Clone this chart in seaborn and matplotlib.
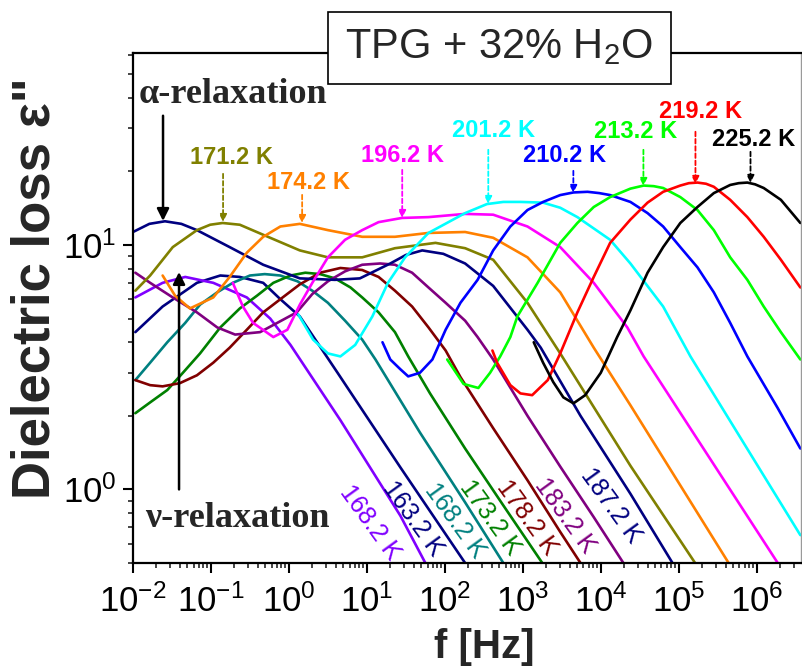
import numpy as np
import pandas as pd
import matplotlib
matplotlib.use("Agg")
import matplotlib.pyplot as plt
import seaborn as sns
from matplotlib.patches import Rectangle
from matplotlib.ticker import LogLocator, LogFormatterSciNotation, NullFormatter

# ---------------- data: log10(f / Hz) and dielectric loss ----------------
logf_163 = [-1.97, -1.62, -1.18, -0.88, -0.63, -0.33, -0.11, 0.14, 0.63, 1.43, 2.26]
eps_163 = [4.4, 5.6, 7.0, 7.5, 7.4, 7.0, 6.0, 5.1, 2.98, 1.23, 0.50]

logf_168v = [-1.97, -1.62, -1.33, -0.97, -0.54, -0.24, 0.02, 0.66, 1.43, 1.75]
eps_168v = [6.1, 7.0, 7.4, 7.0, 6.1, 5.0, 3.9, 1.92, 0.78, 0.50]

logf_168t = [-1.97, -1.78, -1.56, -1.33, -1.14, -0.92, -0.72, -0.50, -0.31, -0.11, 0.11,
             0.30, 0.50, 0.72, 0.94, 1.11, 1.68, 2.26, 2.75]
eps_168t = [2.8, 3.3, 4.0, 4.8, 5.7, 6.4, 7.0, 7.5, 7.6, 7.5, 7.1,
            6.5, 5.8, 4.9, 4.1, 3.4, 1.71, 0.885, 0.50]

logf_173 = [-1.97, -1.78, -1.56, -1.36, -1.14, -0.88, -0.63, -0.41, -0.20, 0.02, 0.21,
            0.40, 0.59, 0.79, 0.94, 1.15, 1.36, 1.53, 1.81, 2.26, 2.75, 3.25]
eps_173 = [2.05, 2.27, 2.55, 3.0, 3.6, 4.6, 5.5, 6.2, 7.0, 7.5, 7.7,
           7.6, 7.3, 6.7, 6.1, 5.3, 4.4, 3.5, 2.47, 1.47, 0.86, 0.50]

logf_178 = [-1.97, -1.78, -1.62, -1.40, -1.18, -0.97, -0.76, -0.54, -0.33, -0.11, 0.14,
            0.40, 0.66, 0.94, 1.15, 1.36, 1.58, 1.79, 2.01, 2.20, 2.62, 3.06, 3.48, 3.74]
eps_178 = [2.8, 2.67, 2.64, 2.72, 2.93, 3.3, 3.8, 4.5, 5.3, 6.0, 6.9,
           7.7, 8.05, 7.9, 7.4, 6.5, 5.6, 4.6, 3.7, 2.88, 1.78, 1.09, 0.67, 0.50]

logf_183 = [-1.97, -1.78, -1.49, -1.18, -0.92, -0.69, -0.37, -0.15, 0.10, 0.30, 0.50,
            0.72, 0.94, 1.17, 1.36, 1.58, 1.79, 2.01, 2.26, 2.42, 2.62, 3.06, 3.48, 3.91, 4.29]
eps_183 = [7.7, 7.0, 6.1, 5.3, 4.6, 4.3, 4.4, 4.8, 5.3, 6.3, 7.1,
           7.8, 8.3, 8.4, 8.3, 7.7, 6.7, 5.8, 4.9, 4.2, 3.4, 2.0, 1.24, 0.77, 0.50]

logf_187 = [-2.00, -1.79, -1.59, -1.38, -1.18, -0.76, -0.33, 0.14, 0.59, 0.91, 1.30, 1.50,
            1.71, 1.98, 2.26, 2.62, 3.06, 3.23, 3.74, 4.38, 4.92]
eps_187 = [11.3, 12.2, 12.5, 12.2, 11.5, 9.8, 8.3, 7.3, 7.2, 7.3, 8.4, 9.1,
           9.5, 9.2, 8.4, 6.8, 4.5, 3.8, 2.0, 0.96, 0.50]

logf_171 = [-1.97, -1.78, -1.49, -1.18, -1.01, -0.85, -0.63, -0.24, 0.14, 0.50, 0.94, 1.36,
            1.88, 2.26, 2.62, 3.06, 3.48, 4.38, 5.21]
eps_171 = [6.5, 7.5, 9.8, 11.5, 12.1, 12.3, 12.1, 10.7, 9.5, 8.9, 8.9, 9.7,
           10.2, 9.7, 8.7, 5.8, 3.6, 1.25, 0.50]

logf_174 = [-1.62, -1.46, -1.27, -0.97, -0.76, -0.54, -0.33, -0.11, 0.14, 0.50, 0.94,
            1.36, 1.79, 2.26, 2.62, 3.06, 3.48, 3.91, 4.38, 5.64]
eps_174 = [7.5, 6.2, 5.5, 6.1, 7.4, 9.3, 10.8, 11.9, 12.2, 11.5, 10.8,
           10.8, 11.2, 11.3, 10.7, 8.9, 6.4, 3.8, 2.21, 0.50]

logf_196 = [-0.72, -0.59, -0.46, -0.20, -0.02, 0.14, 0.30, 0.50, 0.72, 0.94, 1.15,
            1.45, 1.79, 2.26, 2.62, 3.06, 3.48, 3.91, 4.34, 4.55, 6.27]
eps_196 = [7.0, 5.6, 4.8, 4.2, 4.5, 5.7, 7.0, 8.9, 10.5, 11.5, 12.4,
           12.9, 13.0, 13.4, 13.3, 11.9, 9.8, 7.0, 4.6, 3.5, 0.50]

logf_201 = [0.12, 0.31, 0.50, 0.66, 0.85, 1.07, 1.27, 1.49, 1.79, 2.26, 2.54, 2.75,
            2.97, 3.26, 3.48, 3.70, 4.12, 4.38, 4.80, 5.15, 6.56]
eps_201 = [5.2, 4.1, 3.6, 3.5, 3.9, 5.1, 7.0, 8.9, 11.2, 13.5, 14.7, 15.0,
           15.0, 14.9, 14.2, 13.0, 10.5, 8.4, 5.6, 3.5, 0.65]

logf_210 = [1.20, 1.30, 1.43, 1.53, 1.68, 1.84, 2.01, 2.20, 2.42, 2.62, 2.84, 3.06, 3.26,
            3.48, 3.65, 3.83, 3.98, 4.12, 4.38, 4.60, 4.80, 5.02, 5.24, 5.45, 5.66, 5.88,
            6.27, 6.56]
eps_210 = [4.0, 3.4, 3.1, 2.9, 3.0, 3.4, 4.5, 5.8, 7.2, 9.5, 11.9, 13.9, 15.0,
           16.0, 16.4, 16.5, 16.3, 16.0, 15.0, 13.5, 11.9, 9.8, 8.1, 6.4, 4.8, 3.5,
           2.15, 1.47]

logf_213 = [2.03, 2.24, 2.43, 2.58, 2.71, 2.84, 2.93, 3.19, 3.48, 3.70, 3.91, 4.12,
            4.38, 4.55, 4.68, 4.80, 5.02, 5.24, 5.45, 5.66, 5.88, 6.09, 6.31, 6.56]
eps_213 = [3.4, 2.7, 2.6, 3.0, 3.5, 4.2, 5.1, 7.0, 10.2, 12.3, 14.3, 15.7,
           17.0, 17.5, 17.4, 17.1, 15.7, 13.9, 11.5, 8.9, 7.2, 5.6, 4.4, 3.4]

logf_219 = [2.61, 2.67, 2.84, 2.97, 3.12, 3.32, 3.48, 3.70, 3.91, 4.12, 4.38,
            4.60, 4.80, 5.02, 5.13, 5.24, 5.35, 5.45, 5.66, 5.88, 6.09, 6.31, 6.56]
eps_219 = [3.7, 3.3, 2.67, 2.47, 2.43, 2.80, 3.6, 5.3, 7.4, 10.2, 12.7,
           14.9, 16.5, 17.5, 17.9, 18.0, 17.8, 17.3, 15.3, 13.0, 10.8, 8.7, 6.7]

logf_225 = [3.14, 3.26, 3.39, 3.52, 3.65, 3.80, 4.00, 4.21, 4.38, 4.60, 4.80,
            5.02, 5.24, 5.45, 5.66, 5.77, 5.88, 5.98, 6.09, 6.31, 6.56]
eps_225 = [4.0, 3.3, 2.75, 2.38, 2.25, 2.43, 3.0, 4.2, 5.4, 7.7, 9.8,
           12.3, 14.3, 16.3, 17.6, 17.9, 18.0, 17.7, 17.1, 15.3, 12.3]

curve_names = ["163.2 K", "168.2 K (v)", "168.2 K (t)", "173.2 K", "178.2 K", "183.2 K",
               "187.2 K", "171.2 K", "174.2 K", "196.2 K", "201.2 K", "210.2 K",
               "213.2 K", "219.2 K", "225.2 K"]
curve_colors = ["#000080", "#8000FF", "#008080", "#008000", "#800000", "#800080",
                "#000080", "#808000", "#FF8000", "#FF00FF", "#00FFFF", "#0000FF",
                "#00FF00", "#FF0000", "#000000"]
curve_logf = [logf_163, logf_168v, logf_168t, logf_173, logf_178, logf_183, logf_187,
              logf_171, logf_174, logf_196, logf_201, logf_210, logf_213, logf_219, logf_225]
curve_eps = [eps_163, eps_168v, eps_168t, eps_173, eps_178, eps_183, eps_187,
             eps_171, eps_174, eps_196, eps_201, eps_210, eps_213, eps_219, eps_225]

# labels: top (bold, with dashed arrows) and bottom (rotated)
top_labels = ["171.2 K", "174.2 K", "196.2 K", "201.2 K", "210.2 K", "213.2 K", "219.2 K", "225.2 K"]
top_colors = ["#808000", "#FF8000", "#FF00FF", "#00FFFF", "#0000FF", "#00FF00", "#FF0000", "#000000"]
bottom_labels = ["168.2 K", "163.2 K", "168.2 K", "173.2 K", "178.2 K", "183.2 K", "187.2 K"]
bottom_colors = ["#8000FF", "#000080", "#008080", "#008000", "#800000", "#800080", "#000080"]

# ---------------- style ----------------
sns.set_style("ticks")
plt.rcParams["font.family"] = ["Liberation Sans", "DejaVu Sans"]
plt.rcParams["mathtext.default"] = "regular"
plt.rcParams["axes.unicode_minus"] = False

W, H = 802, 670
fig = plt.figure(figsize=(W / 100, H / 100), dpi=100)
AX_L, AX_R, AX_T, AX_B = 133, 801, 53, 563
ax = fig.add_axes([AX_L / W, (H - AX_B) / H, (AX_R - AX_L) / W, (AX_B - AX_T) / H])

rows = []
for name, lf, ep in zip(curve_names, curve_logf, curve_eps):
    for i, (a, b) in enumerate(zip(lf, ep)):
        rows.append((name, i, 10 ** a, b))
df = pd.DataFrame(rows, columns=["curve", "idx", "f", "eps"])

sns.lineplot(data=df, x="f", y="eps", hue="curve", hue_order=curve_names,
             palette=dict(zip(curve_names, curve_colors)), estimator=None, sort=False,
             linewidth=1.9, legend=False, ax=ax, solid_joinstyle="round")

ax.set_xscale("log")
ax.set_yscale("log")
ax.set_xlim(0.01, 3.7e6)
ax.set_ylim(0.5, 61)

ax.xaxis.set_major_locator(LogLocator(base=10, numticks=20))
ax.xaxis.set_minor_locator(LogLocator(base=10, subs=np.arange(2, 10), numticks=200))
ax.yaxis.set_minor_locator(LogLocator(base=10, subs=np.arange(2, 10), numticks=200))
ax.xaxis.set_major_formatter(LogFormatterSciNotation())
ax.yaxis.set_major_formatter(LogFormatterSciNotation())
ax.xaxis.set_minor_formatter(NullFormatter())
ax.yaxis.set_minor_formatter(NullFormatter())

ax.tick_params(which="major", direction="out", length=7, width=1.5, labelsize=25,
               top=False, right=False, colors="black")
ax.tick_params(which="minor", direction="out", length=3.5, width=1.2, top=False, right=False)
ax.tick_params(axis="x", which="major", pad=8)
ax.tick_params(axis="y", which="major", pad=5)

for s in ["left", "bottom", "top"]:
    ax.spines[s].set_linewidth(1.6)
    ax.spines[s].set_color("black")
ax.spines["right"].set_linewidth(1.0)
ax.spines["right"].set_color("#9a9a9a")

ax.set_xlabel("f [Hz]", fontsize=29, fontweight="bold")
ax.set_ylabel('Dielectric loss ε"', fontsize=38, fontweight="bold")
ax.xaxis.set_label_coords((484 - AX_L) / (AX_R - AX_L), -0.127)
ax.yaxis.set_label_coords(-0.108, 0.539)


def ref(px, py):
    """reference-pixel position -> data coordinates (for annotations only)"""
    return 10 ** (-2 + (px - 133) / 77.9), 10 ** (1 - (py - 245) / 244)


# alpha / nu relaxation annotations
ax.text(*ref(233, 95), "α-relaxation", family="Liberation Serif", fontweight="bold",
        fontsize=26, ha="center", va="center")
ax.annotate("", xy=ref(163, 221), xytext=ref(163, 116),
            arrowprops=dict(arrowstyle="-|>", color="black", lw=1.8, mutation_scale=18,
                            shrinkA=0, shrinkB=0))
ax.text(*ref(237, 518), "ν-relaxation", family="Liberation Serif", fontweight="bold",
        fontsize=26, ha="center", va="center")
ax.annotate("", xy=ref(179, 272), xytext=ref(179, 489),
            arrowprops=dict(arrowstyle="-|>", color="black", lw=1.8, mutation_scale=18,
                            shrinkA=0, shrinkB=0))

# top temperature labels with dashed arrows
top_text_px = [(231, 158), (308, 183), (402, 156), (493, 131), (564, 156), (635, 132), (700, 112), (753, 140)]
top_arrow_px = [(223, 174, 222), (302, 195, 223), (402, 170, 218), (488, 150, 204),
                (573, 171, 193), (643, 150, 186), (695, 132, 184), (750, 152, 183)]
for lab, col, (tx, ty), (ax_, y0, y1) in zip(top_labels, top_colors, top_text_px, top_arrow_px):
    ax.text(*ref(tx, ty), lab, color=col, fontsize=17, fontweight="bold", ha="center", va="center")
    ax.annotate("", xy=ref(ax_, y1), xytext=ref(ax_, y0),
                arrowprops=dict(arrowstyle="-|>", color=col, lw=1.3, linestyle=(0, (2.5, 1.5)),
                                mutation_scale=11, shrinkA=0, shrinkB=0))

# rotated labels at the bottom
bottom_px = [(370, 522), (413, 518), (455, 520), (490, 517), (527, 517), (565, 515), (611, 505)]
for lab, col, (tx, ty) in zip(bottom_labels, bottom_colors, bottom_px):
    ax.text(*ref(tx, ty), lab, color=col, fontsize=18, rotation=-54, ha="center", va="center",
            rotation_mode="anchor")

# title box over the top spine
box = Rectangle((328 / W, 1 - 84 / H), (671 - 328) / W, (84 - 12) / H, transform=fig.transFigure,
                facecolor="white", edgecolor="black", linewidth=1.2, zorder=10, clip_on=False)
ax.add_patch(box)
ax.text(499 / W, 1 - 47 / H, "TPG + 32% H$_2$O", transform=fig.transFigure, fontsize=30,
        ha="center", va="center", zorder=11)

fig.savefig("out.png", dpi=100)
